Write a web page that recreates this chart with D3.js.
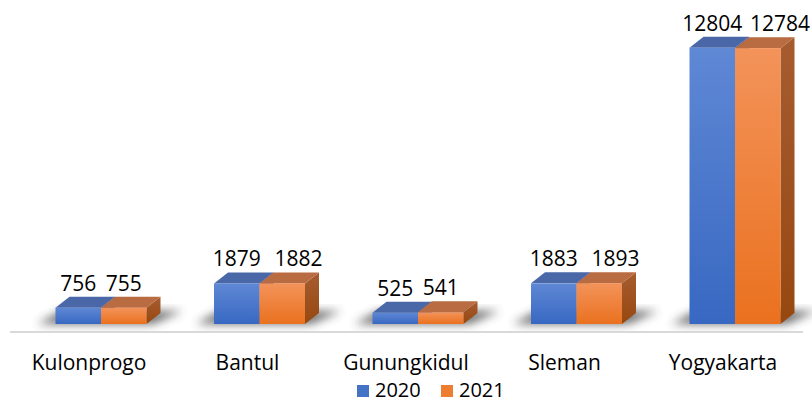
<!DOCTYPE html>
<html>
<head>
<meta charset="utf-8">
<script src="https://cdn.jsdelivr.net/npm/d3@7"></script>
<style>
  body { margin: 0; background: #fff; }
  text { font-family: "Open Sans", "Liberation Sans", sans-serif; fill: #000; }
</style>
</head>
<body>
<div id="chart"></div>
<script>
// Data
const categories = ["Kulonprogo", "Bantul", "Gunungkidul", "Sleman", "Yogyakarta"];
const seriesNames = ["2020", "2021"];
const values2020 = [756, 1879, 525, 1883, 12804];
const values2021 = [755, 1882, 541, 1893, 12784];

const W = 812, H = 402;
const base = 324;          // front bottom of bars
const depthX = 14, depthY = 11;

const svg = d3.select("#chart").append("svg")
  .attr("width", W)
  .attr("height", H);

const defs = svg.append("defs");

// gradients for the faces
function vGrad(id, top, bottom) {
  const g = defs.append("linearGradient").attr("id", id)
    .attr("x1", 0).attr("y1", 0).attr("x2", 0).attr("y2", 1);
  g.append("stop").attr("offset", "0%").attr("stop-color", top);
  g.append("stop").attr("offset", "100%").attr("stop-color", bottom);
}
vGrad("front2020", "#5f88d5", "#3868c2");
vGrad("front2021", "#f3935a", "#ea711f");
vGrad("side2021", "#a65c30", "#974810");

defs.append("filter").attr("id", "blur")
  .attr("x", "-50%").attr("y", "-50%").attr("width", "200%").attr("height", "200%")
  .append("feGaussianBlur").attr("stdDeviation", 5);

const faces = {
  "2020": { front: "url(#front2020)", top: "#4a67a8", side: "#3a5aa0" },
  "2021": { front: "url(#front2021)", top: "#b96b41", side: "url(#side2021)" }
};

// scales
const x0 = d3.scalePoint().domain(categories).range([101, 735]);
const x1 = d3.scaleBand().domain(seriesNames).range([-45.5, 45.5]);
const y = d3.scaleLinear().domain([0, 12804]).range([base, 47.7]);

const rows = categories.map((c, i) => ({
  cat: c,
  bars: [
    { key: "2020", value: values2020[i] },
    { key: "2021", value: values2021[i] }
  ]
}));

// axis line
svg.append("line")
  .attr("x1", 10).attr("x2", 803)
  .attr("y1", 332).attr("y2", 332)
  .attr("stroke", "#d9d9d9")
  .attr("stroke-width", 2);

// soft floor shadows
svg.append("g").selectAll("polygon")
  .data(rows)
  .join("polygon")
  .attr("points", d => {
    const l = x0(d.cat) + x1.range()[0];
    const r = x0(d.cat) + x1.range()[1];
    return [[l - 18, base], [r + 6, base], [r + depthX + 22, base - depthY - 2], [l + depthX - 8, base - depthY - 2]]
      .map(p => p.join(",")).join(" ");
  })
  .attr("fill", "#3a3a3a")
  .attr("opacity", 0.75)
  .attr("filter", "url(#blur)");

// 3D boxes: side, top, then front for each series
const groups = svg.append("g").selectAll("g")
  .data(rows)
  .join("g")
  .attr("transform", d => `translate(${x0(d.cat)},0)`);

groups.each(function(d) {
  const g = d3.select(this);
  d.bars.forEach(b => {
    const l = x1(b.key), w = x1.bandwidth(), t = y(b.value);
    const f = faces[b.key];
    g.append("polygon")
      .attr("points", [[l + w, t], [l + w + depthX, t - depthY], [l + w + depthX, base - depthY], [l + w, base]].map(p => p.join(",")).join(" "))
      .attr("fill", f.side);
    g.append("polygon")
      .attr("points", [[l, t], [l + depthX, t - depthY], [l + w + depthX, t - depthY], [l + w, t]].map(p => p.join(",")).join(" "))
      .attr("fill", f.top);
    g.append("rect")
      .attr("x", l).attr("y", t)
      .attr("width", w).attr("height", base - t)
      .attr("fill", f.front);
  });
});

// data labels
groups.each(function(d) {
  const g = d3.select(this);
  const b0 = d.bars[0], b1 = d.bars[1];
  g.append("text")
    .attr("x", x1(b0.key) + x1.bandwidth() / 2)
    .attr("y", y(b0.value) - 17)
    .attr("text-anchor", "middle")
    .style("font-size", "21px")
    .text(b0.value);
  const txt = String(b1.value);
  g.append("text")
    .attr("x", txt.length > 3 ? x1(b1.key) + 15 : x1(b1.key) + x1.bandwidth() / 2)
    .attr("y", y(b1.value) - 17)
    .attr("text-anchor", txt.length > 3 ? "start" : "middle")
    .style("font-size", "21px")
    .text(txt);
});

// category labels
svg.append("g").selectAll("text")
  .data(categories)
  .join("text")
  .attr("x", d => x0(d) - 12)
  .attr("y", 370)
  .attr("text-anchor", "middle")
  .style("font-size", "21px")
  .text(d => d);

// legend
const legendX = [357, 441];
const legend = svg.append("g").selectAll("g")
  .data(seriesNames)
  .join("g")
  .attr("transform", (d, i) => `translate(${legendX[i]},385)`);
legend.append("rect")
  .attr("width", 12).attr("height", 12)
  .attr("fill", d => d === "2020" ? "#4472c4" : "#ed7d31");
legend.append("text")
  .attr("x", 18).attr("y", 12)
  .style("font-size", "20px")
  .text(d => d);
</script>
</body>
</html>
